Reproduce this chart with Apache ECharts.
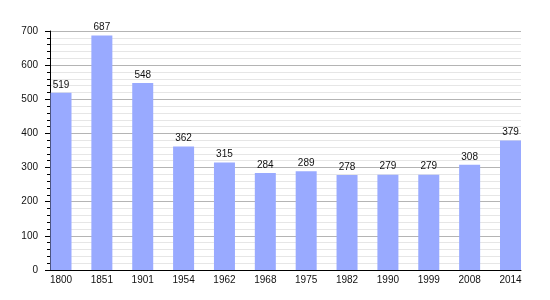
<!DOCTYPE html>
<html>
<head>
<meta charset="utf-8">
<script src="https://cdn.jsdelivr.net/npm/echarts@6/dist/echarts.min.js"></script>
<style>html,body{margin:0;padding:0;background:#fff;}#c{width:550px;height:300px;}</style>
</head>
<body>
<div id="c"></div>
<script>
var categories = ['1800','1851','1901','1954','1962','1968','1975','1982','1990','1999','2008','2014'];
var population = [519, 687, 548, 362, 315, 284, 289, 278, 279, 279, 308, 379];
var yTicks = [0, 100, 200, 300, 400, 500, 600, 700];

var chart = echarts.init(document.getElementById('c'), null, {renderer: 'canvas'});
var font = 'Liberation Sans, Arial, sans-serif';
chart.setOption({
  animation: false,
  backgroundColor: '#ffffff',
  grid: [
    {left: 50, right: 29, top: 31, bottom: 30, containLabel: false},
    {left: 61, right: 39.5, top: 31, bottom: 30, containLabel: false}
  ],
  xAxis: [
    {gridIndex: 0, type: 'value', min: 0, max: 1, show: true,
     axisLine: {show: true, onZero: false, lineStyle: {color: '#000', width: 1}},
     axisTick: {show: false}, axisLabel: {show: false}, splitLine: {show: false}},
    {gridIndex: 1, type: 'category', data: categories, boundaryGap: false,
     axisLine: {show: false}, axisTick: {show: false},
     axisLabel: {color: '#111', fontSize: 10, fontFamily: font, margin: 5, interval: 0},
     splitLine: {show: false}}
  ],
  yAxis: [
    {gridIndex: 0, type: 'value', min: yTicks[0], max: yTicks[yTicks.length-1], interval: 100,
     axisLine: {show: true, lineStyle: {color: '#000', width: 1}},
     axisTick: {show: true, inside: false, length: 5, lineStyle: {color: '#000'}},
     minorTick: {show: true, splitNumber: 5, length: 3, lineStyle: {color: '#000'}},
     axisLabel: {color: '#111', fontSize: 10, fontFamily: font, margin: 12},
     splitLine: {show: true, lineStyle: {color: '#b4b4b4', width: 1}},
     minorSplitLine: {show: true, lineStyle: {color: '#e6e6e6', width: 1}}},
    {gridIndex: 1, type: 'value', min: yTicks[0], max: yTicks[yTicks.length-1], interval: 100, show: false}
  ],
  series: [{
    type: 'bar',
    xAxisIndex: 1, yAxisIndex: 1,
    data: population,
    barWidth: 21,
    itemStyle: {color: '#99aaff'},
    label: {show: true, position: 'top', distance: 3, color: '#111', fontSize: 10, fontFamily: font}
  }]
});
</script>
</body>
</html>
